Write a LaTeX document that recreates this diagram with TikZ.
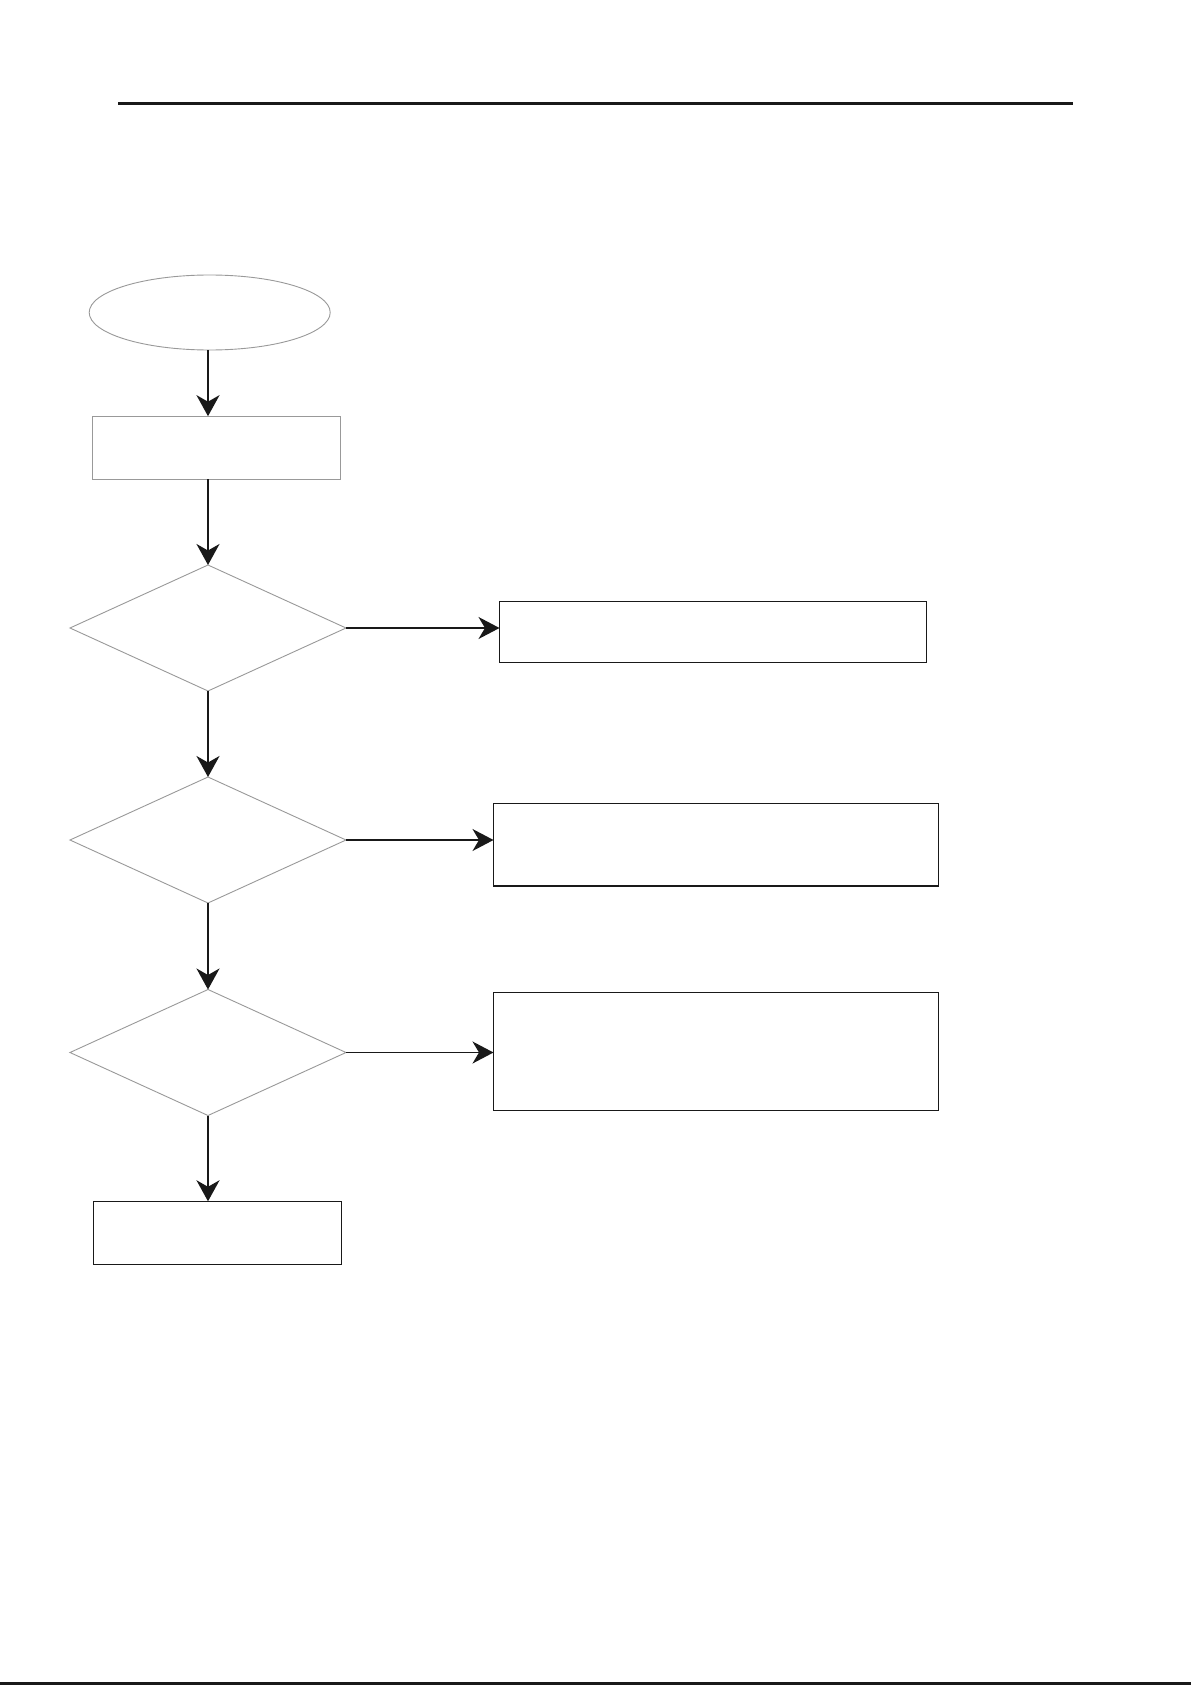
\documentclass[tikz,border=0pt]{standalone}
\usetikzlibrary{arrows.meta,shapes.geometric}
\begin{document}
\begin{tikzpicture}[x=1pt,y=-1pt,
  grayline/.style={draw=black!40,line width=0.9pt,inner sep=0pt,outer sep=0pt},
  startshape/.style={grayline,ellipse,minimum width=241pt,minimum height=75pt},
  graybox/.style={grayline,rectangle,minimum width=248pt,minimum height=63pt},
  decision/.style={grayline,diamond,minimum width=276pt,minimum height=126pt},
  actionbox/.style={draw=black!90,line width=1.5pt,rectangle,inner sep=0pt,outer sep=0pt},
  vconn/.style={draw=black!90,line width=2.2pt,-{Stealth[length=21pt,width=23pt,inset=6.5pt]}},
  hconn/.style={draw=black!90,line width=1.5pt,-{Stealth[length=21pt,width=22pt,inset=6.5pt]}},
  rule/.style={draw=black!90,line width=3pt}]
\useasboundingbox (0,0) rectangle (1191,1685);
\fill[white] (0,0) rectangle (1191,1685);
% rules
\coordinate (rl) at (118,104);
\coordinate (rr) at (1073,104);
\draw[rule] (rl) -- (rr);
\coordinate (bl) at (0,1683.5);
\coordinate (br) at (1191,1683.5);
\draw[rule] (bl) -- (br);
% nodes
\node[startshape] (e) at (209.7,312.5) {};
\node[graybox] (r1) at (216.5,447.7) {};
\node[decision] (d1) at (208,628) {};
\node[decision] (d2) at (208,840) {};
\node[decision] (d3) at (208,1052.5) {};
\node[actionbox,minimum width=427pt,minimum height=61pt] (b1) at (713,631.8) {};
\node[actionbox,minimum width=445pt,minimum height=82.7pt] (b2) at (716,844.7) {};
\node[actionbox,minimum width=445pt,minimum height=118pt] (b3) at (716,1051.3) {};
\node[actionbox,minimum width=248pt,minimum height=63pt] (r2) at (217.5,1232.8) {};
% vertical connectors
\draw[vconn] (d1.north |- e.south) -- (d1.north |- r1.north);
\draw[vconn] (d1.north |- r1.south) -- (d1.north);
\draw[vconn] (d1.south) -- (d2.north);
\draw[vconn] (d2.south) -- (d3.north);
\draw[vconn] (d3.south) -- (d3.south |- r2.north);
% horizontal connectors
\draw[hconn] (d1.east) -- (d1.east -| b1.west);
\draw[hconn] (d2.east) -- (d2.east -| b2.west);
\draw[hconn] (d3.east) -- (d3.east -| b3.west);
\end{tikzpicture}
\end{document}
